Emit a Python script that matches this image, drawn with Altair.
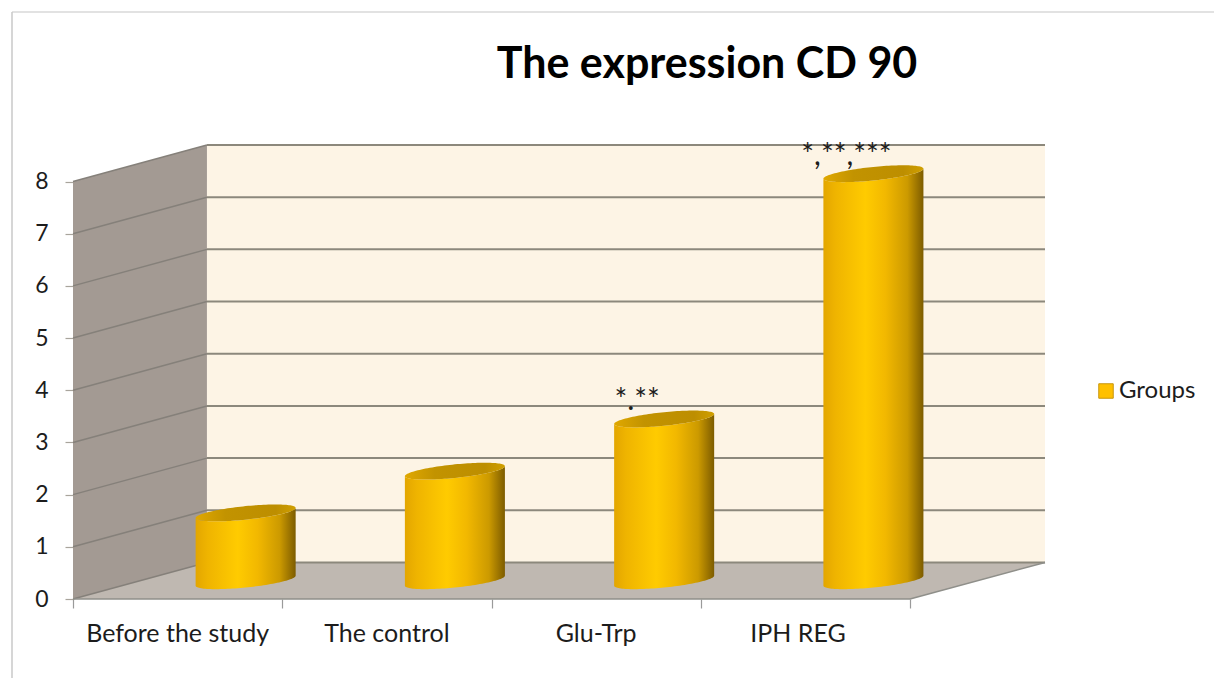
import math
import altair as alt
import pandas as pd

# Chart content
TITLE = "The expression CD 90"
CATEGORIES = ["Before the study", "The control", "Glu-Trp", "IPH REG"]
VALUES = [1.3, 2.1, 3.1, 7.8]
MARKS = ["", "", "*.**", "*,**,***"]
LABEL_POS = [0.5, 1.5, 2.5, 3.465]
SERIES = "Groups"
Y_TICKS = list(range(9))
X_TICKS = [0, 1, 2, 3, 4]

# Oblique projection of the 3-D box, in category and value units
DEPTH_X, DEPTH_Y = 0.64, 0.70
COL_X, COL_Y = 0.325, 0.35
RADIUS, SHEAR, MINOR = 0.239, 0.096, 0.13
X_MAX, Y_MAX = 4.645, 8.70
FONT = "Lato"
INK = "#1c1c1c"
LINE = "#8c887c"

x_scale = alt.Scale(domain=[0, X_MAX], nice=False, zero=False)
y_scale = alt.Scale(domain=[0, Y_MAX], nice=False, zero=False)
x_axis = alt.Axis(values=X_TICKS, labels=False, domain=False, grid=False, title=None,
                  tickColor="#9a9a9a", tickSize=9, tickWidth=1.2)
y_axis = alt.Axis(values=Y_TICKS, domain=False, grid=False, title=None, tickColor="#a8a49c",
                  tickSize=8, tickWidth=1.2, labelFont=FONT, labelFontSize=23, labelColor=INK,
                  labelPadding=17, format="d")
X = lambda f: alt.X(f, type="quantitative", scale=x_scale, axis=x_axis)
Y = lambda f: alt.Y(f, type="quantitative", scale=y_scale, axis=y_axis)


def ellipse_rows():
    """Outline samples for the cylinder ends: base, top and cap arcs."""
    body, cap = [], []
    n = 60
    for name, pos, val in zip(CATEGORIES, range(4), VALUES):
        cx = pos + 0.5 + COL_X
        for i in range(n + 1):
            t = math.pi * i / n
            u = -math.cos(t)
            half = MINOR * math.sin(t)
            mid = SHEAR * u
            body.append({"c": name, "x": cx + RADIUS * u,
                         "lo": COL_Y + mid - half, "hi": COL_Y + val + mid - half})
            cap.append({"c": name, "x": cx + RADIUS * u,
                        "lo": COL_Y + val + mid - half, "hi": COL_Y + val + mid + half})
    return pd.DataFrame(body), pd.DataFrame(cap)


body_df, cap_df = ellipse_rows()

back = alt.Chart(pd.DataFrame({"x": [DEPTH_X, X_MAX], "lo": [DEPTH_Y] * 2, "hi": [Y_MAX] * 2})).mark_area(
    color="#fdf4e5"
).encode(x=X("x"), y=Y("lo"), y2="hi:Q")

side_wall = alt.Chart(pd.DataFrame({"x": [0, DEPTH_X], "lo": [0, DEPTH_Y], "hi": [8, Y_MAX]})).mark_area(
    color="#a39a93"
).encode(x=X("x"), y=Y("lo"), y2="hi:Q")

floor = alt.Chart(pd.DataFrame({"y": [0, DEPTH_Y], "a": [0, DEPTH_X], "b": [4, X_MAX]})).mark_area(
    color="#bfb8b1", orient="horizontal"
).encode(y=Y("y"), x=X("a"), x2="b:Q")

# Gridlines: horizontal on the back wall, slanted on the side wall
grid_df = pd.DataFrame({"v": Y_TICKS, "v2": [v + DEPTH_Y for v in Y_TICKS],
                        "a": [DEPTH_X] * 9, "b": [X_MAX] * 9})
back_grid = alt.Chart(grid_df).mark_rule(color=LINE, strokeWidth=2).encode(
    x=X("a"), x2="b:Q", y=Y("v2"))

side_rows = [{"v": v, "x": x, "y": v + d} for v in Y_TICKS for x, d in [(0, 0), (DEPTH_X, DEPTH_Y)]]
side_grid = alt.Chart(pd.DataFrame(side_rows)).mark_line(color="#85807a", strokeWidth=1.5).encode(
    x=X("x"), y=Y("y"), detail="v:N")

edge_rows = [{"e": "front", "x": 0, "y": 0}, {"e": "front", "x": 4, "y": 0},
             {"e": "right", "x": 4, "y": 0}, {"e": "right", "x": X_MAX, "y": DEPTH_Y}]
floor_edges = alt.Chart(pd.DataFrame(edge_rows)).mark_line(color="#8f8f8a", strokeWidth=1.5).encode(
    x=X("x"), y=Y("y"), detail="e:N")

# Cylinders
body_fill = alt.LinearGradient(
    gradient="linear", x1=0, x2=1, y1=0, y2=0,
    stops=[alt.GradientStop(color="#e3a600", offset=0),
           alt.GradientStop(color="#efb400", offset=0.12),
           alt.GradientStop(color="#ffcb00", offset=0.42),
           alt.GradientStop(color="#f2b800", offset=0.62),
           alt.GradientStop(color="#cc9a00", offset=0.84),
           alt.GradientStop(color="#7d5c00", offset=1)])
cap_fill = alt.LinearGradient(
    gradient="linear", x1=0, x2=1, y1=0, y2=0,
    stops=[alt.GradientStop(color="#e0a800", offset=0),
           alt.GradientStop(color="#c29300", offset=0.3),
           alt.GradientStop(color="#bd8e00", offset=0.8),
           alt.GradientStop(color="#d09f00", offset=1)])
bodies = alt.Chart(body_df).mark_area(color=body_fill).encode(
    x=X("x"), y=Y("lo"), y2="hi:Q", detail="c:N")
caps = alt.Chart(cap_df).mark_area(color=cap_fill).encode(
    x=X("x"), y=Y("lo"), y2="hi:Q", detail="c:N")

# Significance marks above the columns
mark_df = pd.DataFrame({"x": [i + 0.5 + COL_X for i in range(4)],
                        "y": [v + COL_Y for v in VALUES], "t": MARKS})
sig = alt.Chart(mark_df).mark_text(font=FONT, fontSize=30, color=INK, dx=-27, dy=-18).encode(
    x=X("x"), y=Y("y"), text="t:N")

# Category labels under the floor
cat_df = pd.DataFrame({"x": LABEL_POS, "y": [0] * 4, "t": CATEGORIES})
cat_labels = alt.Chart(cat_df).mark_text(font=FONT, fontSize=25, color=INK, dy=35).encode(
    x=X("x"), y=Y("y"), text="t:N")

# Legend entry
legend_layer = alt.Chart(pd.DataFrame({"x": [0], "y": [0], "s": [SERIES]})).mark_square(size=0).encode(
    x=X("x"), y=Y("y"),
    color=alt.Color("s:N", scale=alt.Scale(domain=[SERIES], range=["#ffc000"]), title=None,
                    legend=alt.Legend(orient="none", legendX=1021, legendY=234, symbolType="square",
                                      symbolSize=210, symbolOpacity=1, symbolStrokeColor="#c8960c",
                                      symbolStrokeWidth=1, labelFont=FONT, labelFontSize=24,
                                      labelColor=INK, labelOffset=1)),
)

# Thin frame around the chart
frame_top = alt.Chart(pd.DataFrame({"a": [0]})).mark_rule(color="#d9d9d9", strokeWidth=1.5).encode(
    x=alt.value(-61), x2=alt.value(1141), y=alt.value(-133))
frame_left = alt.Chart(pd.DataFrame({"a": [0]})).mark_rule(color="#c8c8c8", strokeWidth=1.5).encode(
    x=alt.value(-61), y=alt.value(-133), y2=alt.value(533))

chart = alt.layer(
    back, side_wall, floor, back_grid, side_grid, floor_edges,
    bodies, caps, sig, cat_labels, legend_layer, frame_top, frame_left,
).properties(
    width=972, height=454,
    padding={"left": 73, "top": 145, "right": 169, "bottom": 79},
    autosize=alt.AutoSizeParams(type="none"),
    background="white",
    title=alt.TitleParams(TITLE, font=FONT, fontSize=43, fontWeight="bold", color="#000000",
                          anchor="middle", frame="group", dx=148, dy=76, offset=0),
).configure_view(stroke=None)

chart.save("out.html", embed_options={"renderer": "svg", "actions": False})
